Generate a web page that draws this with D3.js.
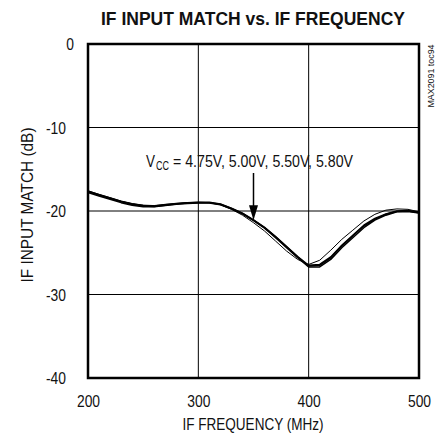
<!DOCTYPE html>
<html>
<head>
<meta charset="utf-8">
<script src="https://cdn.jsdelivr.net/npm/d3@7"></script>
<style>
  html, body { margin: 0; padding: 0; background: #fff; }
  svg { display: block; }
  text { font-family: "Liberation Sans", Arial, sans-serif; fill: #111; }
</style>
</head>
<body>
<div id="chart"></div>
<script>
// ---- data ----
const freqs = [200,210,220,230,240,250,260,270,280,290,300,310,320,330,340,350,360,370,380,390,400,410,420,430,440,450,460,470,480,490,500];
const vcc475 = [-17.6,-18.0,-18.4,-18.8,-19.1,-19.3,-19.35,-19.2,-19.1,-19.0,-18.95,-19.0,-19.25,-19.8,-20.5,-21.4,-22.4,-23.6,-24.8,-25.8,-26.4,-25.9,-24.7,-23.4,-22.3,-21.2,-20.4,-19.9,-19.75,-19.8,-20.1];
const vcc500 = [-17.7,-18.1,-18.5,-18.9,-19.2,-19.4,-19.45,-19.3,-19.15,-19.05,-19.0,-19.0,-19.2,-19.7,-20.3,-21.1,-22.0,-23.1,-24.3,-25.5,-26.6,-26.5,-25.6,-24.2,-23.0,-21.8,-21.0,-20.4,-20.05,-20.0,-20.2];
const vcc550 = [-17.8,-18.2,-18.6,-19.0,-19.3,-19.5,-19.5,-19.35,-19.2,-19.1,-19.05,-19.05,-19.25,-19.75,-20.35,-21.15,-22.05,-23.2,-24.4,-25.6,-26.7,-26.7,-25.8,-24.4,-23.2,-22.0,-21.1,-20.5,-20.1,-20.05,-20.25];
const vcc580 = [-17.6,-18.05,-18.45,-18.85,-19.15,-19.35,-19.4,-19.25,-19.1,-19.0,-18.95,-18.95,-19.15,-19.65,-20.25,-21.05,-21.95,-23.05,-24.25,-25.45,-26.5,-26.4,-25.5,-24.1,-22.9,-21.7,-20.9,-20.35,-20.0,-19.95,-20.15];
const xTicks = [200, 300, 400, 500];
const yTicks = [0, -10, -20, -30, -40];
const title = "IF INPUT MATCH vs. IF FREQUENCY";
const xTitle = "IF FREQUENCY (MHz)";
const yTitle = "IF INPUT MATCH (dB)";
const annotMain = "V";
const annotSub = "CC";
const annotRest = "= 4.75V, 5.00V, 5.50V, 5.80V";
const annotFreq = 350;
const annotValue = -21.1;
const tocLabel = "MAX2091 toc94";

// ---- layout ----
const W = 441, H = 436;
const m = { left: 88, right: 22, top: 44, bottom: 58 };
const svg = d3.select("#chart").append("svg").attr("width", W).attr("height", H);

const x = d3.scaleLinear().domain([200, 500]).range([m.left, W - m.right]);
const y = d3.scaleLinear().domain([-40, 0]).range([H - m.bottom, m.top]);

const fmt = d => String(d);
const digitW = 7.7;
const txtLen = s => s.split("").reduce((a, c) => a + (c === "-" ? 4.6 : digitW), 0);

// title
svg.append("text").attr("x", 253).attr("y", 25).attr("text-anchor", "middle")
  .attr("textLength", 304).attr("lengthAdjust", "spacingAndGlyphs")
  .style("font-size", "19px").style("font-weight", "bold").text(title);

// grid
const g = svg.append("g");
g.selectAll("line.vg").data(xTicks.slice(1, -1)).join("line")
  .attr("x1", d => x(d)).attr("x2", d => x(d)).attr("y1", y(0)).attr("y2", y(-40))
  .attr("stroke", "#000").attr("stroke-width", 1);
g.selectAll("line.hg").data(yTicks.slice(1, -1)).join("line")
  .attr("x1", x(200)).attr("x2", x(500)).attr("y1", d => y(d)).attr("y2", d => y(d))
  .attr("stroke", "#000").attr("stroke-width", 1);

// curves
const line = d3.line().x(d => x(d[0])).y(d => y(d[1]));
const series = [
  { v: vcc475, w: 1 },
  { v: vcc500, w: 1.5 },
  { v: vcc550, w: 1.5 },
  { v: vcc580, w: 1.5 }
];
series.forEach(s => {
  svg.append("path").datum(freqs.map((f, i) => [f, s.v[i]]))
    .attr("d", line).attr("fill", "none").attr("stroke", "#000")
    .attr("stroke-width", s.w).attr("stroke-linejoin", "round");
});

// frame
svg.append("rect").attr("x", x(200)).attr("y", y(0))
  .attr("width", x(500) - x(200)).attr("height", y(-40) - y(0))
  .attr("fill", "none").attr("stroke", "#000").attr("stroke-width", 2.5);

// x axis labels
const xAxis = d3.axisBottom(x).tickValues(xTicks).tickSize(0).tickPadding(0).tickFormat(fmt);
const xa = svg.append("g").attr("transform", `translate(0,${y(-40)})`).call(xAxis);
xa.select(".domain").remove();
xa.selectAll("text").attr("y", 29).attr("dy", null)
  .attr("textLength", d => txtLen(fmt(d))).attr("lengthAdjust", "spacingAndGlyphs")
  .style("font-size", "16px").style("font-family", null).attr("fill", "#111");

// y axis labels
const yAxis = d3.axisLeft(y).tickValues(yTicks).tickSize(0).tickPadding(0).tickFormat(fmt);
const ya = svg.append("g").attr("transform", `translate(${x(200)},0)`).call(yAxis);
ya.select(".domain").remove();
ya.selectAll("text").attr("x", d => d === 0 ? -14 : -22).attr("dy", "0.36em")
  .attr("textLength", d => txtLen(fmt(d))).attr("lengthAdjust", "spacingAndGlyphs")
  .style("font-size", "16px").style("font-family", null).attr("fill", "#111");

// axis titles
svg.append("text").attr("x", 253).attr("y", 430).attr("text-anchor", "middle")
  .attr("textLength", 141).attr("lengthAdjust", "spacingAndGlyphs")
  .style("font-size", "16px").text(xTitle);
svg.append("text").attr("transform", "translate(33,205) rotate(-90)").attr("text-anchor", "middle")
  .attr("textLength", 155).attr("lengthAdjust", "spacingAndGlyphs")
  .style("font-size", "16px").text(yTitle);

// toc label
svg.append("text").attr("transform", "translate(434,76) rotate(-90)").attr("text-anchor", "middle")
  .attr("textLength", 63).attr("lengthAdjust", "spacingAndGlyphs")
  .style("font-size", "9px").text(tocLabel);

// annotation
svg.append("text").attr("x", 146).attr("y", 167)
  .attr("textLength", 9).attr("lengthAdjust", "spacingAndGlyphs")
  .style("font-size", "16px").text(annotMain);
svg.append("text").attr("x", 156).attr("y", 170)
  .attr("textLength", 13).attr("lengthAdjust", "spacingAndGlyphs")
  .style("font-size", "12px").text(annotSub);
svg.append("text").attr("x", 173).attr("y", 167)
  .attr("textLength", 180).attr("lengthAdjust", "spacingAndGlyphs")
  .style("font-size", "16px").text(annotRest);

const ax = x(annotFreq), ayTip = y(annotValue);
svg.append("line").attr("x1", ax).attr("x2", ax).attr("y1", 173).attr("y2", ayTip - 12)
  .attr("stroke", "#000").attr("stroke-width", 1.5);
svg.append("path")
  .attr("d", `M${ax - 4.5},${ayTip - 15}L${ax + 4.5},${ayTip - 15}L${ax},${ayTip}Z`)
  .attr("fill", "#000");
</script>
</body>
</html>
